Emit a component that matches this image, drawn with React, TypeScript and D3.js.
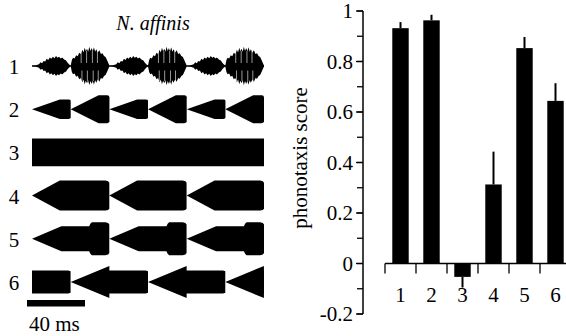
import React from 'react';
import * as d3 from 'd3';

// left panel: stimulus envelopes (time in ms)
const rowLabels = ['1', '2', '3', '4', '5', '6'];
const pulseStarts = [
  [0, 26.7, 53.3, 80, 106.7, 133.3],
  [0, 26.7, 53.3, 80, 106.7, 133.3],
  [0],
  [0, 53.3, 106.7],
  [0, 53.3, 106.7],
  [-26.7, 26.7, 80, 133.3],
];
const pulseDurations = [26.7, 26.7, 160, 53.3, 53.3, 53.3];
const pulseAmps = [
  [1, 1, 1, 1, 1, 1],
  [0.65, 0.93, 0.65, 0.93, 0.65, 0.93],
  [0.93],
  [1, 1, 1],
  [1, 1, 1],
  [1, 1, 1, 1],
];
const pulseShapeNames = ['song', 'ramp', 'flat', 'rampLong', 'rampBump', 'rampStep'];

// envelope templates: [time fraction, amplitude]
const songSmall = [
  [0, 0.03], [0.1, 0.05], [0.18, 0.12], [0.22, 0.25], [0.26, 0.18], [0.3, 0.34], [0.34, 0.3],
  [0.38, 0.48], [0.42, 0.4], [0.46, 0.56], [0.5, 0.48], [0.54, 0.62], [0.58, 0.52],
  [0.62, 0.66], [0.66, 0.55], [0.7, 0.62], [0.74, 0.5], [0.78, 0.56], [0.83, 0.44],
  [0.88, 0.36], [0.92, 0.22], [0.96, 0.1], [1, 0.03],
];
const songLarge = [
  [0, 0.04], [0.03, 0.4], [0.06, 0.55], [0.1, 0.5], [0.14, 0.72], [0.18, 0.65], [0.22, 0.88],
  [0.26, 0.8], [0.3, 1.08], [0.33, 0.9], [0.36, 1.22], [0.39, 0.98], [0.42, 1.15],
  [0.45, 0.95], [0.48, 1.28], [0.51, 1.0], [0.54, 1.2], [0.57, 0.98], [0.6, 1.25],
  [0.63, 0.95], [0.66, 1.12], [0.7, 0.9], [0.74, 1.05], [0.78, 0.8], [0.82, 0.85],
  [0.86, 0.66], [0.9, 0.6], [0.94, 0.38], [0.97, 0.2], [1, 0.04],
];
const songGaps = [0.27, 0.41, 0.56, 0.69];
const pulseShapes: Record<string, number[][]> = {
  ramp: [[0, 0], [0.72, 1], [0.94, 1], [0.985, 0.96], [1, 0.86]],
  flat: [[0, 1], [1, 1]],
  rampLong: [[0, 0], [0.36, 1], [0.95, 1], [0.985, 0.96], [1, 0.86]],
  rampBump: [[0, 0], [0.38, 0.83], [0.74, 0.83], [0.755, 1.0], [0.775, 1.1], [0.95, 1.1], [0.985, 1.05], [1, 0.95]],
  rampStep: [[0, 0], [0.5, 1.07], [0.5, 0.77], [0.97, 0.77], [1, 0.72]],
};

// right panel: phonotaxis scores
const barLabels = ['1', '2', '3', '4', '5', '6'];
const scores = [0.932, 0.963, -0.053, 0.313, 0.853, 0.644];
const scoreErrors = [0.024, 0.022, 0.042, 0.13, 0.044, 0.07];

const css = `svg text { font-family: "Liberation Serif", "DejaVu Serif", "Times New Roman", Times, serif; fill: #000; }`;

export default function App() {
  const xTime = d3.scaleLinear().domain([0, 160]).range([32, 264]);
  const rowY = d3.scalePoint().domain(rowLabels).range([66, 282]);
  const amp = d3.scaleLinear().domain([0, 1]).range([0, 15]);

  const yScale = d3.scaleLinear().domain([-0.2, 1]).range([314, 11]);
  const xBand = d3.scaleBand().domain(barLabels).range([385, 571]).paddingInner(0.47).paddingOuter(0.235);
  const step = xBand.step();
  const bw = xBand.bandwidth();

  const envArea = (cy: number) =>
    d3.area<number[]>()
      .x(d => xTime(d[0]))
      .y0(d => cy + amp(d[1]))
      .y1(d => cy - amp(d[1]));

  const rows = rowLabels.map((lab, r) => {
    const cy = rowY(lab) as number;
    const area = envArea(cy);
    const dur = pulseDurations[r];
    const name = pulseShapeNames[r];
    const paths: React.ReactNode[] = [];
    pulseStarts[r].forEach((s, i) => {
      const a = pulseAmps[r][i];
      let shape: number[][];
      if (name === 'song') shape = i % 2 === 0 ? songSmall : songLarge;
      else shape = pulseShapes[name];
      const pts = shape.map(([t, v]) => [s + t * dur, v * a]);
      paths.push(<path key={`p${i}`} d={area(pts) || ''} fill="#000" />);
      if (name === 'song' && i % 2 === 1) {
        songGaps.forEach((t, k) => {
          const x = xTime(s + t * dur);
          paths.push(
            <line key={`w${i}-${k}`} x1={x} x2={x} y1={cy - amp(1.0)} y2={cy - amp(0.2)} stroke="#fff" strokeWidth={0.6} />
          );
          paths.push(
            <line key={`v${i}-${k}`} x1={x + 0.8} x2={x + 0.8} y1={cy + amp(0.3)} y2={cy + amp(1.0)} stroke="#fff" strokeWidth={0.6} />
          );
        });
      }
    });
    return (
      <g key={lab}>
        <text x={14} y={cy + 8} textAnchor="middle" fontSize={21}>{lab}</text>
        {name === 'song' && (
          <line x1={xTime(0)} x2={xTime(160)} y1={cy} y2={cy} stroke="#000" strokeWidth={1} />
        )}
        <g clipPath="url(#stimClip)">{paths}</g>
      </g>
    );
  });

  const y0 = yScale(0);
  const majorTicks = yScale.ticks(6);
  const minorTicks = yScale.ticks(12);
  const fmt = (d: number) => String(+d.toFixed(1));

  return (
    <svg width={566} height={336} style={{ position: 'absolute', left: 0, top: 0, background: '#fff' }}>
      <style>{css}</style>
      <defs>
        <clipPath id="stimClip">
          <rect x={xTime(0)} y={0} width={xTime(160) - xTime(0)} height={336} />
        </clipPath>
      </defs>

      <text x={153} y={30} textAnchor="middle" fontSize={20} fontStyle="italic">N. affinis</text>
      {rows}

      {/* scale bar */}
      <rect x={27} y={300} width={xTime(40) - xTime(0)} height={6.5} fill="#000" />
      <text x={29} y={331} fontSize={21}>40 ms</text>

      {/* y axis */}
      <line x1={363} x2={363} y1={yScale(1)} y2={yScale(-0.2)} stroke="#000" strokeWidth={1.5} />
      {minorTicks.map(t => (
        <line key={`m${t}`} x1={357} x2={363} y1={yScale(t)} y2={yScale(t)} stroke="#000" strokeWidth={1.3} />
      ))}
      {majorTicks.map(t => (
        <g key={`t${t}`}>
          <line x1={356} x2={363} y1={yScale(t)} y2={yScale(t)} stroke="#000" strokeWidth={1.3} />
          <text x={353} y={yScale(t) + 7} textAnchor="end" fontSize={21}>{fmt(t)}</text>
        </g>
      ))}
      <text transform={`translate(307,158) rotate(-90)`} textAnchor="middle" fontSize={21}>phonotaxis score</text>

      {/* x axis at zero */}
      <line x1={385} x2={571} y1={y0} y2={y0} stroke="#000" strokeWidth={1.5} />
      {barLabels.map(c => {
        const bx = (xBand(c) as number) - (step - bw) / 2;
        return <line key={`xt${c}`} x1={bx} x2={bx} y1={y0} y2={y0 + 10} stroke="#000" strokeWidth={1.3} />;
      })}

      {barLabels.map((c, i) => {
        const v = scores[i];
        const x = xBand(c) as number;
        const top = yScale(Math.max(v, 0));
        const bot = yScale(Math.min(v, 0));
        const errEnd = yScale(v + Math.sign(v) * scoreErrors[i]);
        return (
          <g key={`b${c}`}>
            <rect x={x} y={top} width={bw} height={bot - top} fill="#000" />
            <line x1={x + bw / 2} x2={x + bw / 2} y1={yScale(v)} y2={errEnd} stroke="#000" strokeWidth={2} />
            <text x={x + bw / 2} y={302} textAnchor="middle" fontSize={21}>{c}</text>
          </g>
        );
      })}
    </svg>
  );
}
